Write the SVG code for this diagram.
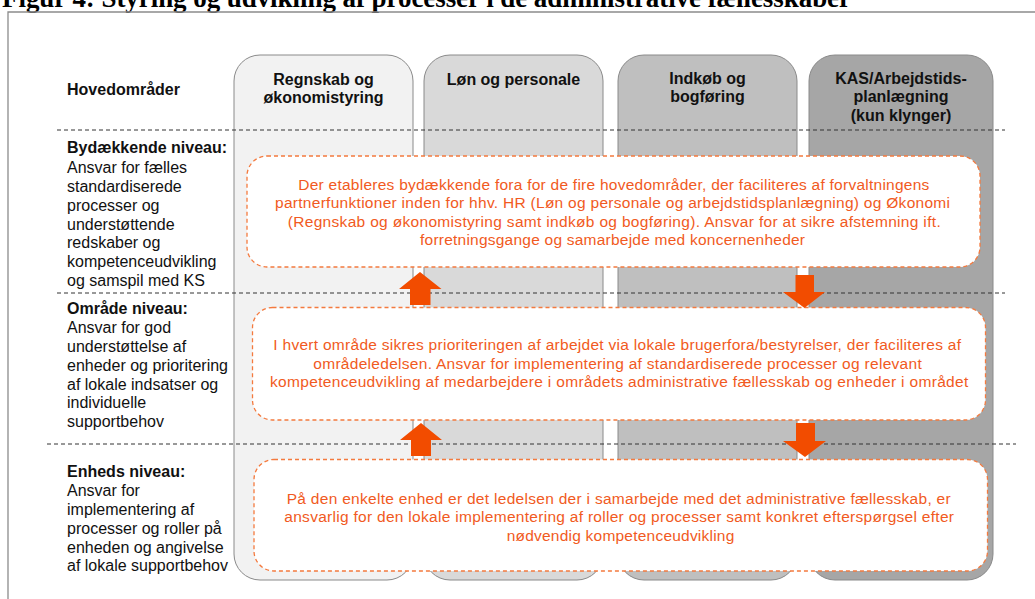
<svg xmlns="http://www.w3.org/2000/svg" width="1035" height="599" viewBox="0 0 1035 599">
  <style>
    .title { font-family: "Liberation Serif", "Times New Roman", serif; font-weight: bold; font-size: 27px; fill: #000; }
    .col { stroke: #8a8a8a; stroke-width: 1; }
    .head { font-family: "Liberation Sans", Arial, sans-serif; font-weight: bold; font-size: 16px; fill: #111; text-anchor: middle; }
    .lbl { font-family: "Liberation Sans", Arial, sans-serif; font-size: 16px; fill: #111; }
    .lbl .b { font-weight: bold; }
    .sep { stroke: #333; stroke-width: 1; stroke-dasharray: 4 3; fill: none; }
    .box { fill: #fff; stroke: #f47a3e; stroke-width: 1.3; stroke-dasharray: 4 3; }
    .otxt { font-family: "Liberation Sans", Arial, sans-serif; font-size: 15.5px; fill: #f15a22; }
    .arrow { fill: #f24c00; }
  </style>

  <rect width="1035" height="599" fill="#fff"/>

  <!-- figure caption -->
  <text class="title" x="2" y="7" textLength="849">Figur 4: Styring og udvikling af processer i de administrative fællesskaber</text>

  <!-- frame -->
  <path d="M8,599 V12 H1035" fill="none" stroke="#8c8c8c" stroke-width="1.3"/>

  <!-- main area columns -->
  <g id="col-regnskab">
    <rect class="col" x="234" y="55" width="179" height="525" rx="26" fill="#f2f2f2"/>
    <text class="head" x="323.5" y="85">Regnskab og</text>
    <text class="head" x="323.5" y="103">økonomistyring</text>
  </g>
  <g id="col-loen">
    <rect class="col" x="424" y="55" width="179" height="525" rx="26" fill="#d9d9d9"/>
    <text class="head" x="513.5" y="85">Løn og personale</text>
  </g>
  <g id="col-indkoeb">
    <rect class="col" x="618" y="55" width="179" height="525" rx="26" fill="#bfbfbf"/>
    <text class="head" x="707.5" y="84">Indkøb og</text>
    <text class="head" x="707.5" y="102">bogføring</text>
  </g>
  <g id="col-kas">
    <rect class="col" x="809" y="55" width="184" height="525" rx="26" fill="#a6a6a6"/>
    <text class="head" x="901" y="84">KAS/Arbejdstids-</text>
    <text class="head" x="901" y="102">planlægning</text>
    <text class="head" x="901" y="121">(kun klynger)</text>
  </g>

  <!-- level separators -->
  <g id="separators">
    <line class="sep" x1="57" y1="130" x2="1005" y2="130"/>
    <line class="sep" x1="57" y1="293" x2="1005" y2="293"/>
    <line class="sep" x1="47" y1="444" x2="1016" y2="444"/>
  </g>

  <!-- row labels -->
  <g id="label-hoved">
    <text class="lbl" x="67" y="95"><tspan class="b">Hovedområder</tspan></text>
  </g>
  <g id="label-bydaekkende">
    <text class="lbl" x="67" y="153"><tspan class="b">Bydækkende niveau:</tspan></text>
    <text class="lbl" x="67" y="173">Ansvar for fælles</text>
    <text class="lbl" x="67" y="192">standardiserede</text>
    <text class="lbl" x="67" y="211">processer og</text>
    <text class="lbl" x="67" y="229.5">understøttende</text>
    <text class="lbl" x="67" y="248">redskaber og</text>
    <text class="lbl" x="67" y="267">kompetenceudvikling</text>
    <text class="lbl" x="67" y="285.5">og samspil med KS</text>
  </g>
  <g id="label-omraade">
    <text class="lbl" x="67" y="313.5"><tspan class="b">Område niveau:</tspan></text>
    <text class="lbl" x="67" y="332.5">Ansvar for god</text>
    <text class="lbl" x="67" y="351.5">understøttelse  af</text>
    <text class="lbl" x="67" y="370.5">enheder og prioritering</text>
    <text class="lbl" x="67" y="389.5">af lokale indsatser og</text>
    <text class="lbl" x="67" y="408">individuelle</text>
    <text class="lbl" x="67" y="427">supportbehov</text>
  </g>
  <g id="label-enheds">
    <text class="lbl" x="67" y="477"><tspan class="b">Enheds niveau:</tspan></text>
    <text class="lbl" x="67" y="496">Ansvar for</text>
    <text class="lbl" x="67" y="514.5">implementering af</text>
    <text class="lbl" x="67" y="533.5">processer og roller på</text>
    <text class="lbl" x="67" y="552.5">enheden og angivelse</text>
    <text class="lbl" x="67" y="571">af lokale supportbehov</text>
  </g>

  <!-- level description boxes -->
  <g id="box-bydaekkende">
    <rect class="box" x="247" y="156" width="733" height="111" rx="20"/>
    <text class="otxt" x="298.3" y="189.5" textLength="631">Der etableres bydækkende fora for de fire hovedområder, der faciliteres af forvaltningens</text>
    <text class="otxt" x="275" y="208" textLength="675">partnerfunktioner  inden for hhv.  HR (Løn og personale og arbejdstidsplanlægning)  og Økonomi</text>
    <text class="otxt" x="287.7" y="226.5" textLength="653">(Regnskab og økonomistyring samt indkøb og bogføring). Ansvar for at sikre afstemning  ift.</text>
    <text class="otxt" x="420" y="245" textLength="385">forretningsgange  og samarbejde med koncernenheder</text>
  </g>
  <g id="box-omraade">
    <rect class="box" x="252.5" y="307.5" width="733" height="112.5" rx="20"/>
    <text class="otxt" x="273.3" y="350" textLength="687.7">I hvert område sikres prioriteringen af arbejdet via lokale brugerfora/bestyrelser,  der faciliteres af</text>
    <text class="otxt" x="313.3" y="368.5" textLength="608.4">områdeledelsen. Ansvar for implementering  af standardiserede processer og relevant</text>
    <text class="otxt" x="270" y="387" textLength="698.3">kompetenceudvikling  af medarbejdere i områdets administrative fællesskab og enheder  i området</text>
  </g>
  <g id="box-enheds">
    <rect class="box" x="254" y="459.5" width="733.5" height="111.5" rx="20"/>
    <text class="otxt" x="286.7" y="503.5" textLength="664">På den enkelte enhed er det ledelsen der i samarbejde med det administrative fællesskab, er</text>
    <text class="otxt" x="284.3" y="522" textLength="669.7">ansvarlig  for den lokale implementering  af roller og processer samt konkret efterspørgsel  efter</text>
    <text class="otxt" x="506.7" y="540.5" textLength="227.6">nødvendig  kompetenceudvikling</text>
  </g>

  <!-- flow arrows between levels -->
  <g id="connectors">
    <polygon class="arrow" points="420,272 441.5,289 430.5,289 430.5,305 410,305 410,289 399,289"/>
    <polygon class="arrow" points="421,423 442,440 431,440 431,456 411,456 411,440 400,440"/>
    <polygon class="arrow" points="795.5,275 814,275 814,292 825,292 804.5,308 783,292 795.5,292"/>
    <polygon class="arrow" points="796,423 815,423 815,441 826,441 805,457 783,441 796,441"/>
  </g>
</svg>
